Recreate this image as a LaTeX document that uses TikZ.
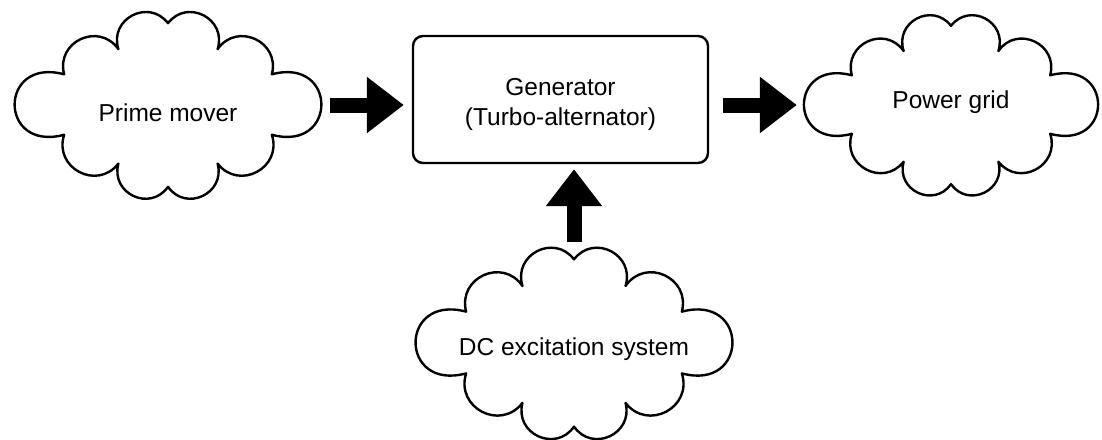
\documentclass[tikz,border=0pt]{standalone}
\usepackage{fontspec}
\setmainfont{Liberation Sans}
\usetikzlibrary{arrows.meta,calc}
\tikzset{
  cloudline/.style={line width=2.4pt, line join=round},
  lobe/.style={bend right=80, looseness=1.45},
  sidelobe/.style={bend right=105, looseness=2.9},
  cloudbox/.style={inner sep=0pt},
  genbox/.style={draw, line width=2.4pt, rounded corners=10pt, minimum width=295pt,
    minimum height=127pt, align=center, inner sep=0pt},
  blockarrow/.style={line width=15pt, -{Triangle[length=37pt,width=54pt]}}
}
\newcommand\cloudoutline[3]{%
  \draw[cloudline,shift={(#1.center)}]
    (0,{.88*#3})
    to[lobe] ({-.32*#2},{.60*#3})
    to[lobe] ({-.67*#2},{.33*#3})
    to[sidelobe] ({-.67*#2},{-.32*#3})
    to[lobe] ({-.32*#2},{-.63*#3})
    to[lobe] (0,{-.88*#3})
    to[lobe] ({.32*#2},{-.63*#3})
    to[lobe] ({.67*#2},{-.32*#3})
    to[sidelobe] ({.67*#2},{.33*#3})
    to[lobe] ({.32*#2},{.60*#3})
    to[lobe] (0,{.88*#3}) -- cycle;}
\begin{document}
\begin{tikzpicture}[x=1pt,y=1pt,font=\fontsize{24.5}{30}\selectfont]
\useasboundingbox (0,0) rectangle (1102,-439);
\node[cloudbox, minimum width=310pt, minimum height=186pt, text height=32pt, text depth=0pt] (pm) at (168,-105) {Prime mover};
\node[cloudbox, minimum width=296pt, minimum height=180pt, text height=6pt, text depth=0pt] (grid) at (951,-105) {Power grid};
\node[cloudbox, minimum width=322pt, minimum height=190pt, text height=24pt, text depth=0pt] (dc) at (574,-343) {DC excitation system};
\node[genbox] (gen) at (560.5,-99.5) {\rule{0pt}{26.3pt}Generator\\(Turbo-alternator)};
\cloudoutline{pm}{155}{93}
\cloudoutline{grid}{148}{90}
\cloudoutline{dc}{161}{95}
\draw[blockarrow, shorten <=7pt, shorten >=8pt] (pm.east) -- (pm.east -| gen.west);
\draw[blockarrow, shorten <=14pt, shorten >=6pt] (gen.east |- grid.west) -- (grid.west);
\draw[blockarrow, shorten <=6pt, shorten >=5pt] (dc.north) -- (dc.north |- gen.south);
\end{tikzpicture}
\end{document}
